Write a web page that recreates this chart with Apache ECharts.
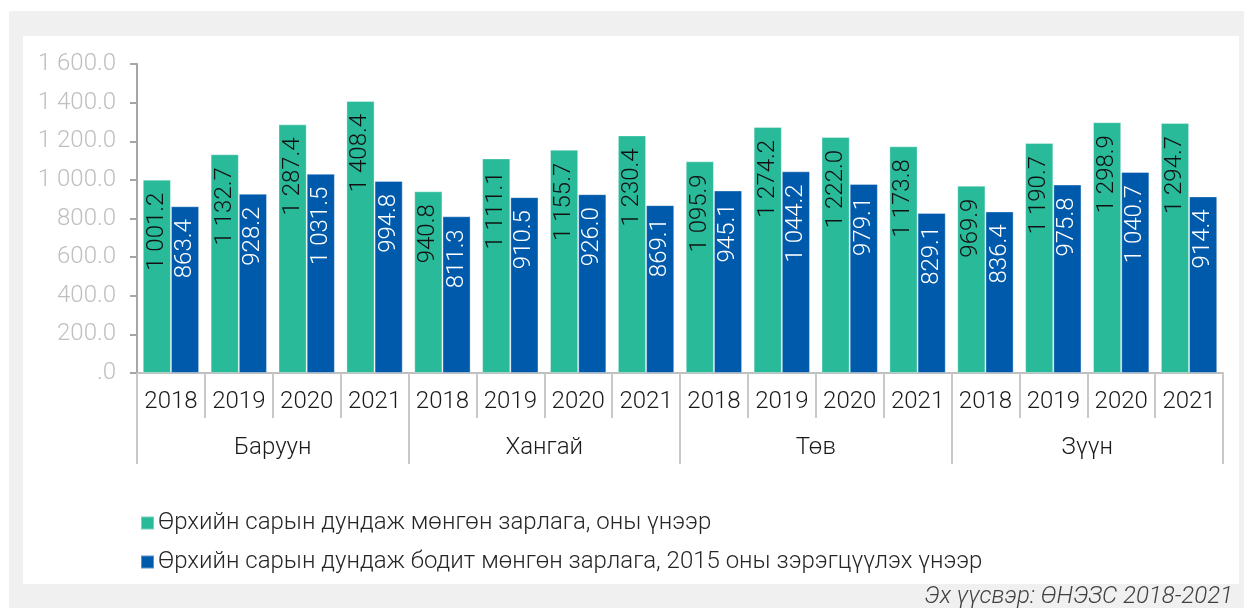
<!DOCTYPE html>
<html>
<head>
<meta charset="utf-8">
<script src="https://cdn.jsdelivr.net/npm/echarts@6/dist/echarts.min.js"></script>
<style>
html,body{margin:0;padding:0;background:#fff;}
#c{width:1244px;height:608px;}
</style>
</head>
<body>
<div id="c"></div>
<script>
const years = ['2018','2019','2020','2021','2018','2019','2020','2021','2018','2019','2020','2021','2018','2019','2020','2021'];
const regions = ['Баруун','Хангай','Төв','Зүүн'];
const nominal = [1001.2,1132.7,1287.4,1408.4, 940.8,1111.1,1155.7,1230.4, 1095.9,1274.2,1222.0,1173.8, 969.9,1190.7,1298.9,1294.7];
const real = [863.4,928.2,1031.5,994.8, 811.3,910.5,926.0,869.1, 945.1,1044.2,979.1,829.1, 836.4,975.8,1040.7,914.4];
const seriesNames = ['Өрхийн сарын дундаж мөнгөн зарлага, оны үнээр','Өрхийн сарын дундаж бодит мөнгөн зарлага, 2015 оны зэрэгцүүлэх үнээр'];
const sourceText = 'Эх үүсвэр: ӨНЭЗС 2018-2021';

function fmt(v){
  const s = v.toFixed(1);
  let [i,d] = s.split('.');
  if (i === '0') return '.' + d;
  i = i.replace(/\B(?=(\d{3})+(?!\d))/g,' ');
  return i + '.' + d;
}
const FONT = 'Roboto';
const FS = 24;
const chart = echarts.init(document.getElementById('c'), null, {renderer:'canvas'});
const labelCommon = {
  show:true, position:'insideTop', rotate:90, align:'right', verticalAlign:'middle',
  distance:13, fontSize:FS, fontFamily:FONT, fontWeight:300,
  formatter:p=>fmt(p.value)
};
chart.setOption({
  backgroundColor:'#fff',
  animation:false,
  textStyle:{fontFamily:FONT},
  graphic:[
    {type:'rect', left:9, top:11, shape:{width:1235, height:597}, style:{fill:'#f0f0f0'}, z:-10, silent:true},
    {type:'rect', left:23, top:36, shape:{width:1216, height:548}, style:{fill:'#fff'}, z:-9, silent:true},
    {type:'text', right:11, top:585, style:{text:sourceText, fontSize:FS, fontStyle:'italic', fontWeight:300, fontFamily:FONT, fill:'#404040'}}
  ],
  legend:{
    orient:'vertical', left:135, top:506, itemWidth:13, itemHeight:13, itemGap:15,
    icon:'rect', textStyle:{fontSize:FS, fontFamily:FONT, fontWeight:300, color:'#262626', padding:[0,0,0,-1]},
    data:seriesNames
  },
  grid:{left:137, right:21, top:64, bottom:235, containLabel:false},
  xAxis:[
    {type:'category', data:years, position:'bottom',
     axisLine:{lineStyle:{color:'#bfbfbf', width:2}},
     axisTick:{show:true, interval:0, length:45, lineStyle:{color:'#c8c8c8', width:2}},
     axisLabel:{interval:0, margin:17, fontSize:FS, fontFamily:FONT, fontWeight:300, color:'#1a1a1a'}},
    {type:'category', data:regions, position:'bottom',
     axisLine:{show:false},
     axisTick:{show:true, interval:0, length:91, lineStyle:{color:'#c8c8c8', width:2}},
     axisLabel:{interval:0, margin:63, fontSize:FS, fontFamily:FONT, fontWeight:300, color:'#1a1a1a'}}
  ],
  yAxis:{
    type:'value', min:0, max:1600, interval:200,
    axisLine:{show:true, lineStyle:{color:'#a6a6a6', width:2}},
    axisTick:{show:true, inside:false, length:7, lineStyle:{color:'#a6a6a6', width:2}},
    splitLine:{show:false},
    axisLabel:{margin:21, fontSize:FS, fontFamily:FONT, fontWeight:300, color:'#bfbfbf', formatter:fmt}
  },
  series:[
    {name:seriesNames[0], type:'bar', data:nominal, xAxisIndex:0, barGap:'0%', barCategoryGap:'17%',
     itemStyle:{color:'#29BA9A', borderColor:'rgba(255,255,255,0.35)', borderWidth:1},
     label:Object.assign({color:'#111'}, labelCommon)},
    {name:seriesNames[1], type:'bar', data:real, xAxisIndex:0, barGap:'0%', barCategoryGap:'17%',
     itemStyle:{color:'#005AAB', borderColor:'rgba(255,255,255,0.35)', borderWidth:1},
     label:Object.assign({color:'#fff'}, labelCommon)}
  ]
});
</script>
</body>
</html>
